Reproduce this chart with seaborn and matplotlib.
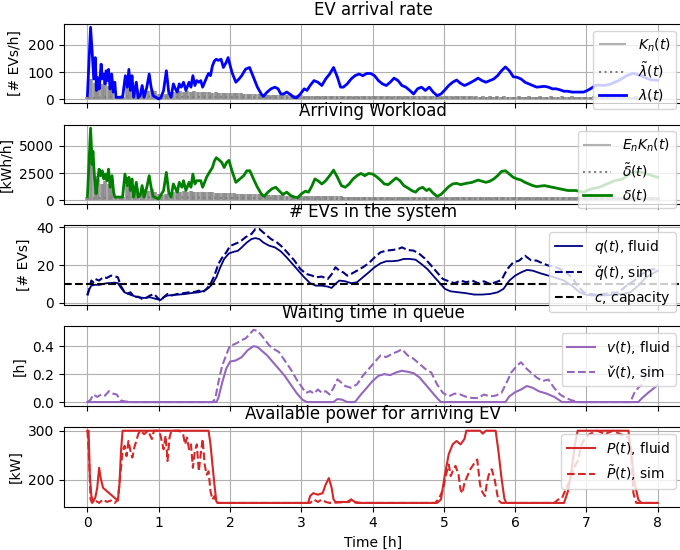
import numpy as np
import seaborn as sns
import matplotlib.pyplot as plt

# ---- per-slot arrivals (grey combs), one value every 0.05 h from 0 to 8 h
kn = [10, 75, 60, 70, 55, 65, 50, 40, 10, 8, 10, 45, 40, 35, 40, 20, 35, 30, 35, 30,
      20, 15, 20, 25, 28, 30, 30, 28, 30, 28, 30, 28, 27, 28, 26, 25, 26, 25, 24, 24,
      23, 23, 22, 22, 21, 21, 20, 20, 19, 19, 18, 18, 17, 17, 16, 16, 16, 15, 15, 15,
      15, 14, 14, 14, 14, 13, 13, 13, 13, 13, 13, 13, 12, 12, 12, 12, 12, 12, 12, 12,
      12, 12, 12, 12, 11, 11, 11, 11, 11, 11, 11, 11, 11, 11, 11, 11, 11, 11, 11, 11,
      11, 11, 11, 11, 11, 11, 11, 11, 11, 11, 10, 11, 10, 11, 10, 11, 10, 11, 10, 10,
      10, 11, 10, 10, 11, 10, 10, 11, 10, 10, 11, 10, 10, 11, 10, 10, 11, 10, 10, 10,
      10, 10, 11, 10, 10, 10, 11, 10, 10, 10, 11, 10, 10, 10, 11, 10, 10, 10, 10, 10,
      10]
en_kn = [300, 3500, 2200, 2000, 1500, 1800, 1500, 1200, 300, 200, 300, 1400, 1200, 1000, 1100, 600, 1000, 900, 1000, 800,
         600, 500, 600, 700, 800, 850, 800, 850, 800, 850, 800, 780, 760, 750, 740, 720, 700, 700, 680, 660,
         650, 640, 620, 600, 600, 580, 560, 550, 540, 530, 520, 500, 480, 470, 460, 450, 440, 430, 420, 420,
         410, 400, 400, 390, 390, 380, 380, 370, 370, 360, 360, 360, 350, 350, 350, 350, 340, 340, 340, 340,
         340, 330, 330, 330, 330, 330, 320, 330, 320, 330, 320, 320, 320, 320, 310, 320, 310, 320, 310, 310,
         310, 310, 310, 300, 310, 300, 310, 300, 300, 310, 300, 300, 300, 310, 300, 300, 300, 300, 300, 300,
         300, 300, 290, 300, 300, 290, 300, 300, 290, 300, 300, 290, 300, 300, 290, 300, 300, 290, 300, 300,
         290, 300, 290, 300, 290, 300, 290, 300, 290, 300, 290, 290, 290, 290, 290, 290, 290, 290, 290, 290,
         290]
t_slot = np.arange(len(kn)) * 0.05

# ---- smoothed empirical rates (dotted grey, mostly hidden in the combs)
t_tilde = [0, 0.5, 1, 2, 3, 4, 5, 6, 7, 8]
lam_tilde = [5, 12, 10, 8, 6, 5, 5, 5, 5, 5]
delta_tilde = [150, 300, 280, 220, 160, 140, 130, 130, 130, 130]

# ---- arrival rate lambda(t)
t_lam = [0.0, 0.044, 0.071, 0.088, 0.11, 0.126, 0.142, 0.164, 0.192, 0.208, 0.23, 0.247, 0.263, 0.279,
         0.296, 0.318, 0.34, 0.362, 0.384, 0.40, 0.493, 0.532, 0.559, 0.581, 0.603, 0.625, 0.647, 0.685,
         0.712, 0.74, 0.767, 0.795, 0.833, 0.866, 0.893, 0.921, 0.959, 0.997, 1.03, 1.068, 1.107, 1.14,
         1.173, 1.205, 1.233, 1.26, 1.288, 1.315, 1.348, 1.381, 1.425, 1.452, 1.479, 1.507, 1.534, 1.562,
         1.589, 1.616, 1.671, 1.699, 1.726, 1.753, 1.781, 1.808, 1.836, 1.874, 1.907, 1.945, 1.973, 2.027,
         2.082, 2.126, 2.164, 2.219, 2.274, 2.329, 2.384, 2.438, 2.466, 2.521, 2.575, 2.63, 2.674, 2.712,
         2.751, 2.795, 2.849, 2.893, 2.932, 2.986, 3.041, 3.079, 3.123, 3.178, 3.233, 3.288, 3.342, 3.397,
         3.452, 3.507, 3.551, 3.589, 3.644, 3.699, 3.753, 3.808, 3.863, 3.918, 3.973, 4.027, 4.082, 4.137,
         4.192, 4.247, 4.301, 4.356, 4.411, 4.466, 4.521, 4.575, 4.63, 4.685, 4.74, 4.795, 4.849, 4.904,
         4.959, 5.014, 5.068, 5.123, 5.178, 5.233, 5.288, 5.342, 5.425, 5.479, 5.534, 5.589, 5.644, 5.699,
         5.753, 5.808, 5.863, 5.918, 5.973, 6.027, 6.082, 6.137, 6.192, 6.247, 6.301, 6.41, 6.466, 6.521,
         6.575, 6.63, 6.685, 6.74, 6.795, 6.849, 6.904, 6.959, 7.014, 7.068, 7.123, 7.178, 7.233, 7.288,
         7.342, 7.452, 7.562, 7.66, 7.781, 7.9, 8.0]
lam = [14, 264, 153, 75, 153, 33, 80, 38, 129, 75, 93, 57, 105, 69,
       110, 38, 93, 27, 63, 8, 8, 87, 45, 110, 33, 87, 8, 63,
       6, 14, 51, 8, 45, 93, 45, 14, 8, 2, 6, 33, 105, 27,
       8, 57, 39, 27, 57, 45, 63, 33, 63, 45, 87, 51, 69, 63,
       69, 45, 80, 95, 87, 123, 141, 147, 143, 147, 117, 135, 153, 99,
       63, 75, 87, 111, 117, 81, 45, 20, 11, 27, 39, 45, 39, 20,
       20, 27, 18, 8, 6, 20, 39, 33, 51, 69, 63, 51, 75, 93,
       117, 81, 45, 45, 57, 75, 87, 93, 87, 95, 95, 87, 69, 57,
       51, 63, 78, 69, 51, 45, 33, 20, 39, 45, 33, 45, 27, 14,
       20, 35, 51, 63, 71, 59, 51, 57, 69, 78, 69, 63, 69, 75,
       87, 105, 119, 105, 83, 81, 75, 63, 57, 51, 45, 48, 45, 39,
       39, 35, 30, 30, 27, 27, 27, 27, 33, 41, 51, 53, 51, 53,
       57, 69, 87, 96, 85, 72, 70]

# ---- arriving workload delta(t)
t_del = [0.0, 0.044, 0.066, 0.077, 0.099, 0.121, 0.142, 0.164, 0.186, 0.208, 0.23, 0.252, 0.274, 0.296,
         0.318, 0.345, 0.367, 0.384, 0.493, 0.526, 0.559, 0.581, 0.603, 0.625, 0.647, 0.685, 0.712, 0.74,
         0.767, 0.795, 0.833, 0.866, 0.893, 0.921, 0.997, 1.068, 1.107, 1.14, 1.173, 1.205, 1.26, 1.288,
         1.326, 1.348, 1.381, 1.425, 1.452, 1.479, 1.507, 1.534, 1.589, 1.616, 1.671, 1.71, 1.753, 1.781,
         1.808, 1.852, 1.885, 1.918, 1.951, 1.984, 2.027, 2.082, 2.137, 2.192, 2.236, 2.279, 2.329, 2.384,
         2.438, 2.477, 2.532, 2.586, 2.641, 2.685, 2.74, 2.795, 2.849, 2.904, 2.948, 3.003, 3.058, 3.101,
         3.151, 3.19, 3.233, 3.288, 3.342, 3.397, 3.452, 3.507, 3.562, 3.616, 3.671, 3.726, 3.781, 3.836,
         3.89, 3.945, 4.0, 4.055, 4.11, 4.164, 4.219, 4.274, 4.329, 4.384, 4.438, 4.493, 4.548, 4.603,
         4.647, 4.701, 4.756, 4.795, 4.849, 4.904, 4.959, 5.014, 5.068, 5.123, 5.178, 5.233, 5.315, 5.397,
         5.479, 5.534, 5.589, 5.644, 5.699, 5.753, 5.808, 5.863, 5.918, 5.973, 6.027, 6.082, 6.137, 6.192,
         6.247, 6.301, 6.411, 6.521, 6.63, 6.74, 6.849, 6.959, 7.068, 7.178, 7.288, 7.397, 7.507, 7.616,
         7.726, 7.836, 8.0]
delta = [360, 6620, 3300, 4500, 2100, 600, 1800, 2860, 2260, 2710, 1960, 2410, 1800, 2860,
         1200, 2260, 750, 300, 300, 2410, 1350, 2110, 900, 1960, 300, 1650, 300, 450,
         1350, 300, 1200, 2260, 1200, 360, 120, 900, 2560, 750, 300, 1500, 750, 1650,
         1200, 1800, 900, 1650, 1200, 2410, 1500, 1800, 1800, 1200, 2110, 2560, 3010, 3610,
         3910, 3670, 3460, 3010, 3460, 3670, 2710, 1650, 1960, 2260, 2710, 2710, 1960, 1200,
         600, 360, 750, 1050, 1200, 900, 540, 750, 450, 300, 240, 600, 840, 750,
         1350, 1960, 1800, 1500, 1800, 2260, 2770, 2110, 1350, 1200, 1500, 1960, 2260, 2470,
         2260, 2470, 2410, 2170, 1860, 1500, 1440, 1750, 2050, 1800, 1350, 1140, 900, 750,
         1050, 1200, 900, 1050, 660, 360, 540, 900, 1260, 1500, 1560, 1440, 1560, 1650,
         1860, 1750, 1650, 1750, 1960, 2260, 2650, 2710, 2410, 2110, 1960, 1860, 1650, 1500,
         1350, 1260, 1350, 1200, 1050, 900, 900, 750, 1050, 1200, 1500, 1800, 1950, 2500,
         2650, 2450, 2100]

# ---- number of EVs in the system
capacity = 10
t_q = [0, 0.027, 0.055, 0.11, 0.164, 0.219, 0.274, 0.329, 0.384, 0.427, 0.466, 0.521, 0.575, 0.63,
       0.712, 0.795, 0.877, 0.959, 1.03, 1.068, 1.123, 1.205, 1.288, 1.37, 1.479, 1.562, 1.644, 1.699,
       1.753, 1.808, 1.863, 1.918, 1.984, 2.055, 2.11, 2.164, 2.236, 2.301, 2.356, 2.411, 2.466, 2.548,
       2.63, 2.712, 2.795, 2.877, 2.959, 3.041, 3.123, 3.205, 3.288, 3.37, 3.425, 3.479, 3.534, 3.616,
       3.699, 3.781, 3.863, 3.945, 4.027, 4.11, 4.192, 4.274, 4.356, 4.438, 4.521, 4.603, 4.685, 4.767,
       4.849, 4.932, 5.014, 5.096, 5.205, 5.315, 5.425, 5.534, 5.644, 5.753, 5.836, 5.918, 6.0, 6.082,
       6.164, 6.247, 6.356, 6.466, 6.575, 6.685, 6.795, 6.904, 6.986, 7.068, 7.178, 7.288, 7.397, 7.507,
       7.616, 7.726, 7.836, 8.0]
q_fluid = [4.7, 7.4, 9.1, 9.6, 9.5, 10.0, 10.4, 10.5, 10.7, 10.4, 8.2, 5.6, 4.7, 3.9,
           3.0, 2.6, 3.0, 2.1, 1.6, 3.0, 3.9, 4.2, 4.4, 4.7, 5.3, 5.6, 6.5, 7.9,
           10.0, 13.5, 18.8, 23.2, 26.1, 27.0, 27.5, 29.3, 31.9, 33.7, 34.2, 33.7, 31.9, 30.2,
           29.3, 27.2, 24.0, 20.5, 17.0, 13.5, 10.4, 9.1, 9.1, 8.6, 7.9, 10.0, 11.8, 11.4,
           10.4, 10.9, 13.5, 16.1, 18.8, 20.9, 22.0, 22.0, 22.3, 23.2, 23.2, 22.8, 20.5, 17.9,
           14.4, 10.9, 7.4, 6.1, 5.6, 5.1, 4.4, 4.4, 4.7, 5.6, 7.4, 11.8, 14.4, 16.1,
           17.4, 17.0, 15.6, 14.4, 13.2, 11.8, 9.1, 5.6, 4.4, 3.9, 3.9, 4.0, 4.4, 4.7,
           5.6, 9.1, 13.5, 17.0]
t_qs = [0, 0.027, 0.055, 0.082, 0.11, 0.164, 0.219, 0.274, 0.329, 0.384, 0.427, 0.466, 0.493, 0.521,
        0.548, 0.603, 0.658, 0.712, 0.767, 0.822, 0.877, 0.932, 0.986, 1.03, 1.068, 1.123, 1.178, 1.26,
        1.342, 1.425, 1.507, 1.562, 1.616, 1.671, 1.726, 1.781, 1.836, 1.89, 1.945, 2.0, 2.055, 2.11,
        2.164, 2.219, 2.301, 2.356, 2.411, 2.466, 2.521, 2.575, 2.658, 2.74, 2.822, 2.904, 2.986, 3.068,
        3.151, 3.205, 3.288, 3.37, 3.425, 3.479, 3.534, 3.589, 3.644, 3.699, 3.781, 3.863, 3.945, 4.027,
        4.11, 4.192, 4.274, 4.356, 4.411, 4.493, 4.575, 4.658, 4.74, 4.822, 4.904, 4.986, 5.068, 5.151,
        5.233, 5.315, 5.397, 5.479, 5.562, 5.644, 5.726, 5.808, 5.89, 5.973, 6.055, 6.137, 6.219, 6.301,
        6.384, 6.466, 6.548, 6.63, 6.712, 6.795, 6.877, 6.959, 7.041, 7.123, 7.233, 7.342, 7.452, 7.562,
        7.671, 7.781, 7.89, 8.0]
q_sim = [3.9, 7.4, 11.8, 10.9, 12.6, 11.8, 13.5, 13.2, 14.4, 14.0, 13.5, 9.1, 7.4, 5.6,
         4.7, 5.6, 3.0, 3.3, 2.1, 2.6, 3.9, 4.7, 2.6, 0.9, 3.0, 4.7, 3.9, 4.7,
         5.1, 5.6, 5.8, 6.5, 5.6, 7.4, 10.0, 14.4, 20.5, 23.9, 26.5, 30.0, 30.9, 31.8,
         33.0, 34.7, 36.4, 39.0, 39.0, 37.2, 35.4, 33.7, 31.9, 29.3, 25.8, 22.3, 17.9, 15.3,
         14.4, 13.5, 13.9, 12.6, 15.1, 18.8, 17.0, 16.1, 14.4, 15.3, 17.0, 18.8, 20.9, 24.0,
         26.7, 27.6, 27.9, 28.4, 29.3, 27.9, 27.6, 25.8, 23.2, 19.7, 16.1, 12.6, 11.4, 10.4,
         11.8, 10.9, 11.8, 10.4, 11.4, 10.0, 10.9, 12.1, 17.9, 21.4, 22.3, 24.9, 22.6, 22.3,
         20.9, 19.7, 19.2, 17.9, 16.1, 13.5, 9.1, 5.6, 4.7, 4.4, 4.7, 5.3, 5.6, 9.1,
         11.8, 15.3, 17.5, 18.0]

# ---- waiting time in queue
t_v = [0, 1.808, 1.836, 1.89, 1.945, 2.0, 2.082, 2.164, 2.247, 2.329, 2.384, 2.438, 2.521, 2.603,
       2.685, 2.767, 2.849, 2.932, 3.014, 3.079, 3.452, 3.507, 3.573, 3.644, 3.753, 3.836, 3.918, 4.0,
       4.082, 4.164, 4.247, 4.329, 4.411, 4.493, 4.575, 4.658, 4.74, 4.822, 4.904, 4.959, 5.863, 5.918,
       6.0, 6.082, 6.164, 6.247, 6.329, 6.438, 6.548, 6.658, 7.726, 7.781, 7.863, 8.0]
v_fluid = [0, 0, 0.029, 0.139, 0.237, 0.290, 0.298, 0.322, 0.371, 0.400, 0.395, 0.371, 0.334, 0.285,
           0.237, 0.188, 0.127, 0.066, 0.017, 0, 0, 0.022, 0.017, 0, 0, 0.054, 0.102, 0.151,
           0.188, 0.200, 0.193, 0.212, 0.224, 0.217, 0.207, 0.176, 0.127, 0.078, 0.029, 0, 0, 0.041,
           0.071, 0.090, 0.115, 0.102, 0.078, 0.061, 0.037, 0, 0, 0.029, 0.066, 0.122]
t_vs = [0, 0.044, 0.082, 0.137, 0.192, 0.247, 0.301, 0.356, 0.411, 0.466, 0.521, 0.603, 1.753, 1.792,
        1.836, 1.89, 1.945, 2.0, 2.055, 2.11, 2.164, 2.219, 2.274, 2.329, 2.384, 2.438, 2.493, 2.548,
        2.603, 2.685, 2.767, 2.849, 2.932, 3.014, 3.068, 3.123, 3.178, 3.233, 3.288, 3.342, 3.397, 3.452,
        3.507, 3.562, 3.616, 3.699, 3.781, 3.863, 3.945, 4.027, 4.11, 4.192, 4.274, 4.356, 4.411, 4.493,
        4.575, 4.658, 4.74, 4.822, 4.904, 4.986, 5.068, 5.151, 5.233, 5.315, 5.397, 5.479, 5.562, 5.644,
        5.726, 5.808, 5.89, 5.945, 6.027, 6.082, 6.164, 6.219, 6.301, 6.384, 6.466, 6.548, 6.63, 6.712,
        6.795, 6.904, 7.616, 7.671, 7.726, 7.781, 7.836, 7.89, 7.945, 8.0]
v_sim = [0, 0.017, 0.054, 0.037, 0.054, 0.046, 0.078, 0.061, 0.054, 0.012, 0.005, 0, 0, 0.022,
         0.139, 0.261, 0.334, 0.407, 0.412, 0.427, 0.444, 0.456, 0.485, 0.517, 0.510, 0.480, 0.444, 0.407,
         0.383, 0.359, 0.298, 0.237, 0.163, 0.102, 0.066, 0.078, 0.061, 0.090, 0.066, 0.078, 0.054, 0.102,
         0.163, 0.139, 0.115, 0.102, 0.127, 0.188, 0.237, 0.285, 0.334, 0.322, 0.346, 0.363, 0.378, 0.334,
         0.310, 0.273, 0.237, 0.212, 0.127, 0.066, 0.041, 0.061, 0.054, 0.037, 0.029, 0.029, 0.054, 0.041,
         0.046, 0.066, 0.151, 0.212, 0.261, 0.285, 0.237, 0.212, 0.176, 0.151, 0.161, 0.100, 0.054, 0.029,
         0.012, 0, 0, 0.066, 0.102, 0.127, 0.188, 0.237, 0.212, 0.217]

# ---- available power for an arriving EV
t_p = [0, 0.016, 0.033, 0.055, 0.082, 0.11, 0.137, 0.164, 0.186, 0.219, 0.274, 0.329, 0.384, 0.427,
       0.449, 0.471, 0.493, 1.699, 1.726, 1.753, 1.781, 1.808, 1.836, 3.096, 3.123, 3.167, 3.233, 3.299,
       3.342, 3.386, 3.425, 3.452, 3.479, 3.644, 3.699, 3.753, 3.836, 4.904, 4.959, 5.014, 5.068, 5.123,
       5.178, 5.233, 5.288, 5.315, 5.507, 5.545, 5.589, 5.726, 5.764, 5.808, 5.847, 5.874, 6.685, 6.74,
       6.795, 6.838, 6.877, 7.589, 7.627, 7.671, 7.726, 7.77, 8.0]
p_fluid = [300, 300, 210, 166, 155, 163, 183, 224, 203, 183, 176, 169, 162, 157,
           190, 259, 300, 300, 272, 231, 190, 155, 152, 152, 166, 172, 169, 172,
           190, 203, 183, 159, 154, 154, 159, 154, 152, 152, 159, 210, 252, 272,
           279, 272, 283, 300, 300, 294, 300, 300, 259, 203, 162, 152, 152, 176,
           224, 272, 300, 300, 252, 197, 159, 152, 152]
t_ps = [0, 0.022, 0.044, 0.066, 0.11, 0.164, 0.219, 0.274, 0.329, 0.384, 0.427, 0.466, 0.493, 0.521,
        0.548, 0.575, 0.603, 0.63, 0.658, 0.685, 0.712, 0.74, 0.795, 0.849, 0.904, 0.932, 0.986, 1.014,
        1.068, 1.096, 1.123, 1.151, 1.178, 1.288, 1.342, 1.37, 1.397, 1.425, 1.452, 1.479, 1.507, 1.534,
        1.562, 1.589, 1.616, 1.644, 1.671, 1.699, 1.726, 1.753, 1.781, 1.808, 3.123, 3.178, 3.233, 3.288,
        3.342, 3.397, 3.671, 3.699, 3.726, 3.781, 4.877, 4.932, 4.986, 5.03, 5.068, 5.096, 5.123, 5.162,
        5.205, 5.233, 5.26, 5.288, 5.329, 5.37, 5.425, 5.468, 5.507, 5.534, 5.575, 5.603, 5.63, 5.671,
        5.712, 5.753, 5.781, 5.808, 6.548, 6.603, 6.658, 6.685, 6.767, 6.822, 6.877, 6.932, 6.986, 7.041,
        7.151, 7.26, 7.37, 7.479, 7.589, 7.627, 7.658, 7.698, 8.0]
p_sim = [300, 245, 159, 152, 157, 152, 159, 154, 157, 152, 159, 217, 259, 269,
         248, 279, 259, 245, 266, 279, 293, 300, 293, 300, 283, 300, 300, 297,
         262, 290, 238, 286, 300, 300, 293, 272, 286, 262, 272, 224, 259, 272,
         217, 252, 283, 231, 210, 217, 176, 159, 166, 152, 152, 159, 154, 159,
         154, 152, 154, 159, 154, 152, 152, 161, 179, 210, 231, 207, 217, 228,
         210, 179, 172, 193, 207, 221, 233, 241, 189, 176, 166, 193, 210, 221,
         200, 166, 155, 152, 152, 159, 162, 172, 197, 224, 238, 272, 286, 293,
         300, 293, 300, 293, 286, 262, 172, 152, 152]

fig, axes = plt.subplots(5, 1, figsize=(6.8, 5.5), dpi=100, sharex=True)
fig.subplots_adjust(left=0.094, right=1.004, top=0.957, bottom=0.079, hspace=0.27)

# EV arrival rate
ax = axes[0]
ax.vlines(t_slot, 0, kn, color="grey", lw=2.6, alpha=0.85, label=r"$K_n(t)$")
sns.lineplot(x=t_tilde, y=lam_tilde, ax=ax, color="grey", ls=":", lw=1.5, label=r"$\tilde{\lambda}(t)$")
sns.lineplot(x=t_lam, y=lam, ax=ax, color="blue", lw=2, label=r"$\lambda(t)$")
ax.set_title("EV arrival rate")
ax.set_ylabel("[# EVs/h]")
ax.set_yticks([0, 100, 200])

# arriving workload
ax = axes[1]
ax.vlines(t_slot, 0, en_kn, color="grey", lw=2.6, alpha=0.85, label=r"$E_nK_n(t)$")
sns.lineplot(x=t_tilde, y=delta_tilde, ax=ax, color="grey", ls=":", lw=1.5, label=r"$\tilde{\delta}(t)$")
sns.lineplot(x=t_del, y=delta, ax=ax, color="green", lw=2, label=r"$\delta(t)$")
ax.set_title("Arriving Workload")
ax.set_ylabel("[kWh/h]")
ax.set_yticks([0, 2500, 5000])

# EVs in the system
ax = axes[2]
sns.lineplot(x=t_q, y=q_fluid, ax=ax, color="navy", lw=1.3, label=r"$q(t)$, fluid")
sns.lineplot(x=t_qs, y=q_sim, ax=ax, color="navy", lw=1.5, ls="--", label="$q\u030c(t)$, sim")
ax.axhline(capacity, color="black", ls="--", lw=1.5, label=r"$c$, capacity")
ax.set_title("# EVs in the system")
ax.set_ylabel("[# EVs]")
ax.set_yticks([0, 20, 40])

# waiting time
ax = axes[3]
sns.lineplot(x=t_v, y=v_fluid, ax=ax, color="tab:purple", lw=1.5, label=r"$v(t)$, fluid")
sns.lineplot(x=t_vs, y=v_sim, ax=ax, color="tab:purple", lw=1.5, ls="--", label="$v\u030c(t)$, sim")
ax.set_title("Waiting time in queue")
ax.set_ylabel("[h]")
ax.set_yticks([0.0, 0.2, 0.4])

# available power
ax = axes[4]
sns.lineplot(x=t_p, y=p_fluid, ax=ax, color="tab:red", lw=1.5, label=r"$P(t)$, fluid")
sns.lineplot(x=t_ps, y=p_sim, ax=ax, color="tab:red", lw=1.5, ls="--", label=r"$\tilde{P}(t)$, sim")
ax.set_title("Available power for arriving EV")
ax.set_ylabel("[kW]")
ax.set_yticks([200, 300])
ax.set_xlabel("Time [h]")

for i, ax in enumerate(axes):
    ax.grid(True)
    leg = ax.legend(loc="upper right")
    if i < 2:
        # thin legend key for the grey comb
        leg.legend_handles[0].set_linewidth(1.5)
        leg.legend_handles[0].set_alpha(0.6)
    ax.set_xlim(-0.33, 8.35)
    ax.set_xticks(range(9))

fig.savefig("out.png", dpi=100)
